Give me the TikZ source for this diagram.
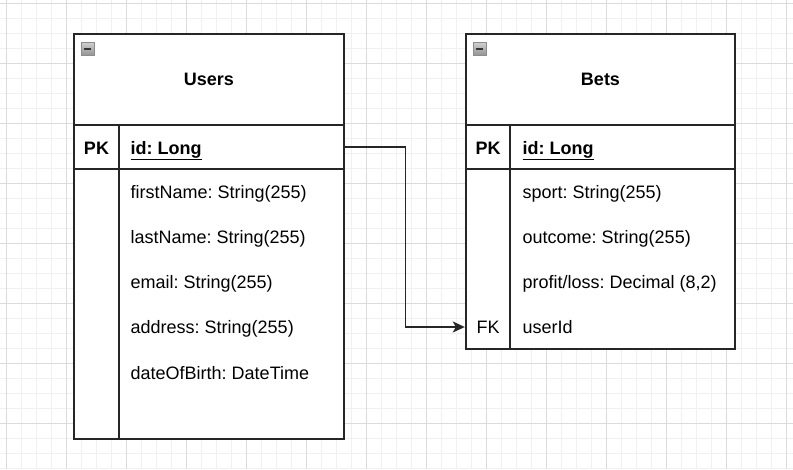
\documentclass[tikz,border=0pt]{standalone}
\usepackage{fontspec}
\setmainfont{Liberation Sans}
\usetikzlibrary{arrows.meta, positioning}

\begin{document}
\frenchspacing
\begin{tikzpicture}[x=1pt, y=-1pt,
        line width=1.4pt,
        >={Stealth[length=12pt, width=11pt, inset=3pt]},
        edge/.style={draw=black!85},
        field/.style={anchor=base west, inner sep=0pt, font=\fontsize{18}{21}\selectfont},
        key/.style={anchor=base, inner sep=0pt, font=\fontsize{18}{21}\selectfont},
        title/.style={anchor=base, inner sep=0pt, font=\fontsize{18}{21}\selectfont\bfseries},
        row/.style={minimum width=270pt, minimum height=45pt, inner sep=0pt},
        toggle/.style={top color=black!18, bottom color=black!42, draw=black!45, line width=0.8pt}]

  \useasboundingbox (0,0) rectangle (793,469);
  \fill[white] (0,0) rectangle (793,469);

  % grid
  \foreach \x in {6,21,...,793} \draw[line width=1pt, black!6] (\x,0) -- (\x,469);
  \foreach \y in {3,18,...,469} \draw[line width=1pt, black!6] (0,\y) -- (793,\y);
  \foreach \x in {6,66,...,793} \draw[line width=1pt, black!14] (\x,0) -- (\x,469);
  \foreach \y in {3,63,...,469} \draw[line width=1pt, black!14] (0,\y) -- (793,\y);

  % Users table
  \fill[white] (74,34) rectangle (344,439);
  \draw[edge] (74,34) rectangle (344,439);
  \draw[edge] (74,125) -- (344,125) (74,169) -- (344,169) (119,125) -- (119,439);
  \draw[toggle] (81,42) rectangle (94,55);
  \draw[line width=2pt, black!80] (84,48.5) -- (91,48.5);
  \node[title] (usersTitle) at (209,85.5) {Users};
  \node[row] (usersId) at (209,147) {};
  \node[key, font=\fontsize{18}{21}\selectfont\bfseries] (usersPK) at (96.5,154) {PK};
  \node[field, font=\fontsize{18}{21}\selectfont\bfseries] (usersIdTxt) at (130,154) {\underline{id: Long}};
  \node[field] (firstName) at (130,198.5) {firstName: String(255)};
  \node[field] (lastName) at (130,243.5) {lastName: String(255)};
  \node[field] (email) at (130,288.5) {email: String(255)};
  \node[field] (address) at (130,333.5) {address: String(255)};
  \node[field] (dob) at (130,379) {dateOfBirth: DateTime};

  % Bets table
  \fill[white] (466,34) rectangle (735,349);
  \draw[edge] (466,34) rectangle (735,349);
  \draw[edge] (466,125) -- (735,125) (466,169) -- (735,169) (510,125) -- (510,349);
  \draw[toggle] (473,42) rectangle (486,55);
  \draw[line width=2pt, black!80] (476,48.5) -- (483,48.5);
  \node[title] (betsTitle) at (600.5,85.5) {Bets};
  \node[key, font=\fontsize{18}{21}\selectfont\bfseries] (betsPK) at (488,154) {PK};
  \node[field, font=\fontsize{18}{21}\selectfont\bfseries] (betsIdTxt) at (522,154) {\underline{id: Long}};
  \node[field] (sport) at (522,198.5) {sport: String(255)};
  \node[field] (outcome) at (522,243.5) {outcome: String(255)};
  \node[field] (profit) at (522,288.5) {profit/loss: Decimal (8,2)};
  \node[row] (betsFK) at (600.5,327) {};
  \node[key] (betsFKTxt) at (488,333.5) {FK};
  \node[field] (userId) at (522,333.5) {userId};

  % relation
  \draw[edge, ->] (usersId.east) -- ++(61,0) |- (betsFK.west);
\end{tikzpicture}
\end{document}
